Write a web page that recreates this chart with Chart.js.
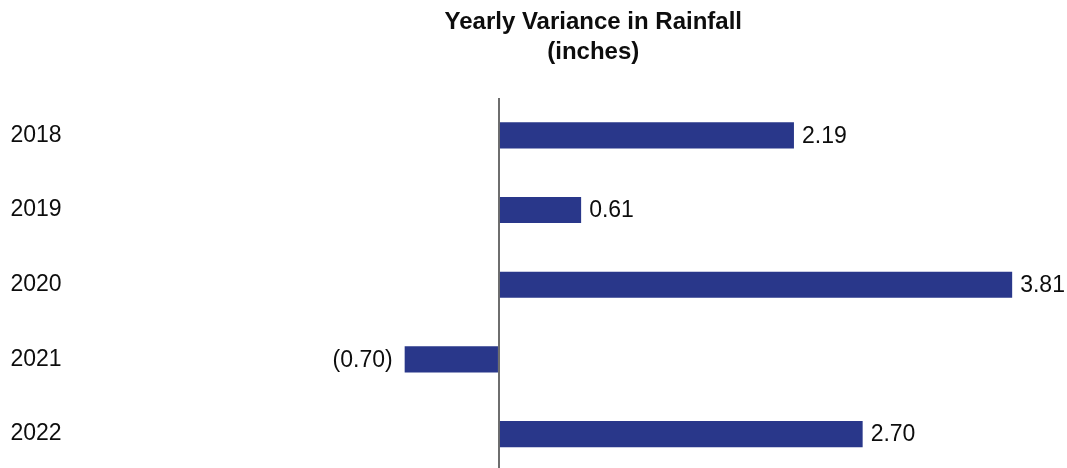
<!DOCTYPE html>
<html>
<head>
<meta charset="utf-8">
<title>Yearly Variance in Rainfall</title>
<script src="https://cdn.jsdelivr.net/npm/chart.js@4"></script>
<style>
  html, body { margin: 0; padding: 0; background: #ffffff; overflow: hidden; }
  /* The plot runs a few pixels past the visible frame at the bottom */
  #frame { width: 1067px; height: 468px; overflow: hidden; position: relative; }
  canvas { display: block; }
</style>
</head>
<body>
<div id="frame">
  <canvas id="chart" width="1067" height="472"></canvas>
</div>
<script>
// Rainfall variance by year, in inches (negative = below normal)
const years = ['2018', '2019', '2020', '2021', '2022'];
const variance = [2.19, 0.61, 3.81, -0.70, 2.70];
const titleLines = ['Yearly Variance in Rainfall', '(inches)'];

const FONT = "'Liberation Sans', Arial, Helvetica, sans-serif";
const BAR_COLOR = '#29378A';
const TEXT_COLOR = '#0d0d0d';

// Accounting-style number: negatives shown in parentheses
function fmt(v) {
  const s = Math.abs(v).toFixed(2);
  return v < 0 ? '(' + s + ')' : s;
}

// Writes each bar's value just past the end of the bar
const valueLabels = {
  id: 'valueLabels',
  afterDatasetsDraw(chart) {
    const ctx = chart.ctx;
    const meta = chart.getDatasetMeta(0);
    const data = chart.data.datasets[0].data;
    ctx.save();
    ctx.font = '23px ' + FONT;
    ctx.fillStyle = TEXT_COLOR;
    ctx.textBaseline = 'middle';
    meta.data.forEach((bar, i) => {
      const v = data[i];
      if (v < 0) {
        ctx.textAlign = 'right';
        ctx.fillText(fmt(v), bar.x - 12, bar.y + 1);
      } else {
        ctx.textAlign = 'left';
        ctx.fillText(fmt(v), bar.x + 8, bar.y + 1);
      }
    });
    ctx.restore();
  }
};

new Chart(document.getElementById('chart'), {
  type: 'bar',
  data: {
    labels: years,
    datasets: [{
      data: variance,
      backgroundColor: BAR_COLOR,
      borderWidth: 0,
      barPercentage: 0.35,
      categoryPercentage: 1.0
    }]
  },
  options: {
    indexAxis: 'y',
    responsive: false,
    animation: false,
    layout: { padding: { left: 10.5, right: 2.3, top: 0, bottom: 0.6 } },
    plugins: {
      legend: { display: false },
      tooltip: { enabled: false },
      title: {
        display: true,
        text: titleLines,
        fullSize: false,
        color: TEXT_COLOR,
        font: { family: FONT, size: 24, weight: 'bold', lineHeight: 1.25 },
        padding: { top: 7.4, bottom: 30.6 }
      }
    },
    scales: {
      x: {
        min: -2.8,
        max: 4.2,
        ticks: { display: false },
        // only the zero baseline is drawn as a grid line
        afterBuildTicks: (scale) => { scale.ticks = [{ value: 0 }]; },
        border: { display: false },
        grid: {
          drawTicks: false,
          lineWidth: 2,
          color: '#6E6E6E'
        }
      },
      y: {
        ticks: {
          crossAlign: 'far',
          color: TEXT_COLOR,
          font: { family: FONT, size: 23 }
        },
        border: { display: false },
        grid: { display: false, drawTicks: false },
        afterFit: (scale) => {
          scale.width = 111.3;
          scale.paddingTop = 0;
          scale.paddingBottom = 0;
        }
      }
    }
  },
  plugins: [valueLabels]
});
</script>
</body>
</html>
